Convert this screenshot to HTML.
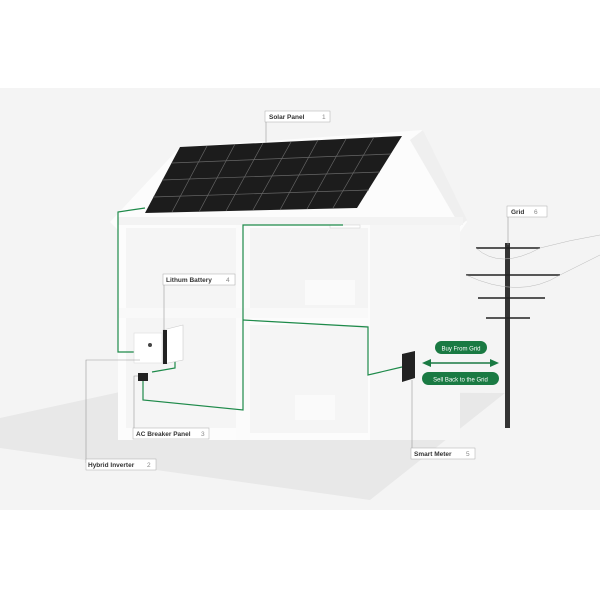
<!DOCTYPE html>
<html><head><meta charset="utf-8"><style>
html,body{margin:0;padding:0;background:#fff;width:600px;height:600px;overflow:hidden}
text{font-family:"Liberation Sans",sans-serif}
</style></head><body>
<svg width="600" height="600" viewBox="0 0 600 600" xmlns="http://www.w3.org/2000/svg">
<rect x="0" y="88" width="600" height="422" fill="#f4f4f4"/>
<polygon points="0,418 120,392 505,393 370,500 0,448" fill="#e8e8e8"/>
<polygon points="110,222 180,147 423,130 467,222 460,232 460,440 118,440 118,230" fill="#fcfcfc"/>
<polygon points="370,225 460,222 460,440 370,440" fill="#f6f6f6"/>
<polygon points="423,130 467,220 460,226 410,140" fill="#efefef"/>
<rect x="118" y="217" width="345" height="8" fill="#f3f3f3"/>
<rect x="126" y="228" width="110" height="80" fill="#f5f5f5"/>
<rect x="250" y="228" width="118" height="85" fill="#f4f4f4"/>
<rect x="126" y="318" width="110" height="110" fill="#f5f5f5"/>
<rect x="250" y="325" width="118" height="108" fill="#f5f5f5"/>
<rect x="236" y="225" width="14" height="215" fill="#fbfbfb"/>
<rect x="118" y="308" width="250" height="10" fill="#f9f9f9"/>
<rect x="305" y="280" width="50" height="25" fill="#fafafa"/>
<rect x="295" y="395" width="40" height="25" fill="#fafafa"/>
<rect x="330" y="225" width="30" height="3" fill="#fff" stroke="#ccc" stroke-width="0.5"/>
<polygon points="145,213 180,147 402,136 357,208" fill="#1c1c1c"/>
<g stroke="#666" stroke-width="0.7">
<line x1="162" y1="180" x2="380" y2="172"/>
<line x1="172" y1="163" x2="391" y2="154"/>
<line x1="153" y1="197" x2="369" y2="190"/>
<line x1="207" y1="146" x2="172" y2="212"/><line x1="235" y1="144" x2="199" y2="212"/>
<line x1="263" y1="143" x2="226" y2="211"/><line x1="291" y1="142" x2="253" y2="210"/>
<line x1="318" y1="140" x2="280" y2="210"/><line x1="346" y1="139" x2="307" y2="209"/>
<line x1="374" y1="137" x2="333" y2="208"/>
</g>
<g fill="none" stroke="#1e8a4a" stroke-width="1.2">
<polyline points="145,208 118,212 118,352 135,352"/>
<polyline points="343,225 243,225 243,410 143,400 143,378"/>
<polyline points="243,320 368,327 368,375 402,367"/>
<polyline points="152,372 175,368 175,360"/>
</g>
<rect x="134" y="333" width="28" height="30" fill="#fff" stroke="#ddd" stroke-width="0.6"/>
<circle cx="150" cy="345" r="2" fill="#444"/>
<polygon points="163,330 183,325 183,360 163,364" fill="#fff" stroke="#ccc" stroke-width="0.6"/>
<rect x="163" y="330" width="4" height="34" fill="#222"/>
<rect x="138" y="373" width="10" height="8" fill="#222"/>
<polygon points="402,354 415,351 415,378 402,382" fill="#222"/>
<rect x="505" y="243" width="5" height="185" fill="#333"/>
<g stroke="#222" stroke-width="1.6">
<line x1="476" y1="248" x2="540" y2="248"/>
<line x1="466" y1="275" x2="560" y2="275"/>
<line x1="478" y1="298" x2="545" y2="298"/>
<line x1="486" y1="318" x2="530" y2="318"/>
</g>
<g fill="none" stroke="#bbb" stroke-width="0.5">
<path d="M476 248 Q500 270 540 248"/><path d="M466 275 Q520 300 560 275"/>
<path d="M540 248 Q570 240 600 235"/><path d="M560 275 Q580 265 600 255"/>
</g>
<rect x="435" y="341" width="52" height="13" rx="6.5" fill="#1a7a43"/>
<text x="461" y="350.5" font-size="6" fill="#fff" text-anchor="middle">Buy From Grid</text>
<rect x="422" y="372" width="77" height="13" rx="6.5" fill="#1a7a43"/>
<text x="460.5" y="381.5" font-size="6" fill="#fff" text-anchor="middle">Sell Back to the Grid</text>
<line x1="428" y1="363" x2="493" y2="363" stroke="#1a7a43" stroke-width="1.5"/>
<polygon points="422,363 431,359 431,367" fill="#1a7a43"/>
<polygon points="499,363 490,359 490,367" fill="#1a7a43"/>
<g fill="none" stroke="#999" stroke-width="0.6">
<line x1="266" y1="122" x2="266" y2="143"/>
<line x1="508" y1="216" x2="508" y2="245"/>
<line x1="164" y1="284" x2="164" y2="330"/>
<polyline points="134,431 134,376 138,376"/>
<polyline points="86,463 86,360 140,360"/>
<polyline points="412,452 412,380"/>
</g>
<g font-size="6.5" font-weight="bold" fill="#333">
<rect x="265" y="111" width="65" height="11" fill="#fff" stroke="#aaa" stroke-width="0.5"/>
<text x="269" y="119">Solar Panel</text><text x="322" y="119" font-weight="normal" fill="#888">1</text>
<rect x="507" y="206" width="40" height="11" fill="#fff" stroke="#aaa" stroke-width="0.5"/>
<text x="511" y="214">Grid</text><text x="534" y="214" font-weight="normal" fill="#888">6</text>
<rect x="163" y="274" width="72" height="11" fill="#fff" stroke="#aaa" stroke-width="0.5"/>
<text x="166" y="282">Lithum Battery</text><text x="226" y="282" font-weight="normal" fill="#888">4</text>
<rect x="133" y="428" width="76" height="11" fill="#fff" stroke="#aaa" stroke-width="0.5"/>
<text x="136" y="436">AC Breaker Panel</text><text x="201" y="436" font-weight="normal" fill="#888">3</text>
<rect x="86" y="459" width="70" height="11" fill="#fff" stroke="#aaa" stroke-width="0.5"/>
<text x="88" y="467">Hybrid Inverter</text><text x="147" y="467" font-weight="normal" fill="#888">2</text>
<rect x="411" y="448" width="64" height="11" fill="#fff" stroke="#aaa" stroke-width="0.5"/>
<text x="414" y="456">Smart Meter</text><text x="466" y="456" font-weight="normal" fill="#888">5</text>
</g>
</svg>
</body></html>
